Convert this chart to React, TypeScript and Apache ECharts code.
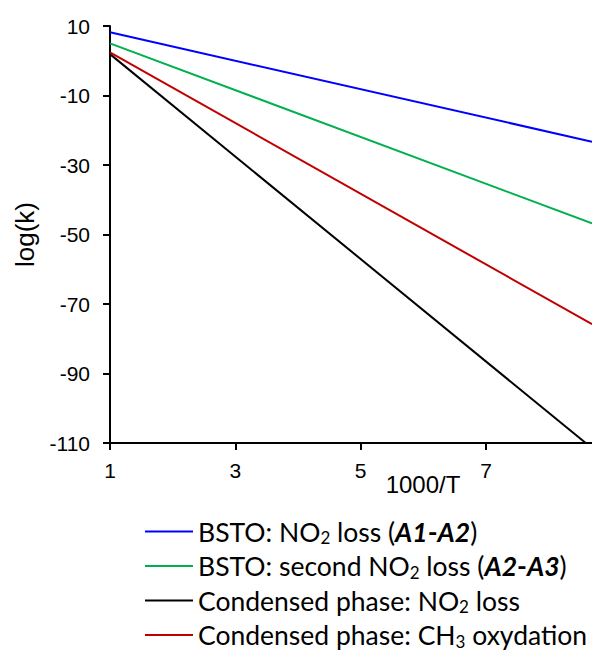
import React, { useEffect, useRef } from "react";
import * as echarts from "echarts";

// ---- data ----
const xTicks = [1, 3, 5, 7];
const yTicks = [-110, -90, -70, -50, -30, -10, 10];
const seriesNames = [
  "BSTO: NO2 loss (A1-A2)",
  "BSTO: second NO2 loss (A2-A3)",
  "Condensed phase: NO2 loss",
  "Condensed phase: CH3 oxydation",
];
const legendRich = [
  "BSTO: NO{sub|2} loss ({bi|A1}{b|-}{bi|A2})",
  "BSTO: second NO{sub|2} loss ({bi|A2}{b|-}{bi|A3})",
  "Condensed phase: NO{sub|2} loss",
  "Condensed phase: CH{sub|3} oxydation",
];
const colors = ["#0000FF", "#00B050", "#000000", "#C00000"];
const blueX = [1, 8.69];
const blueY = [8.2, -23.3];
const greenX = [1, 8.69];
const greenY = [5.0, -46.8];
const blackX = [1, 8.59];
const blackY = [1.9, -110];
const redX = [1, 8.69];
const redY = [2.4, -75.8];

const pairs = (xs: number[], ys: number[]) => xs.map((x, i) => [x, ys[i]]);

export default function App() {
  const ref = useRef<HTMLDivElement>(null);
  useEffect(() => {
    document.body.style.margin = "0";
    const chart = echarts.init(ref.current!, undefined, { renderer: "svg" });
    const seriesData = [
      pairs(blueX, blueY),
      pairs(greenX, greenY),
      pairs(blackX, blackY),
      pairs(redX, redY),
    ];
    const fam = "Lato";
    const fs = 26.5;
    chart.setOption({
      animation: false,
      backgroundColor: "#ffffff",
      grid: { left: 110, right: 0, top: 26, bottom: 209, containLabel: false },
      xAxis: {
        type: "value",
        min: 1,
        max: 8.69,
        interval: 2,
        name: "1000/T",
        nameLocation: "middle",
        nameGap: 29,
        nameMoveOverlap: false,
        nameTextStyle: {
          fontFamily: "Liberation Sans",
          fontSize: 24,
          color: "#000",
          padding: [0, 0, 0, 144],
        },
        axisLine: { onZero: false, lineStyle: { color: "#000", width: 2 } },
        axisTick: { show: true, length: 7, inside: false, customValues: xTicks, lineStyle: { color: "#000", width: 2 } },
        axisLabel: {
          customValues: xTicks,
          margin: 17,
          fontFamily: "Liberation Sans",
          fontSize: 21,
          color: "#000",
        },
        splitLine: { show: false },
      },
      yAxis: {
        type: "value",
        min: -110,
        max: 10,
        interval: 20,
        name: "log(k)",
        nameLocation: "middle",
        nameGap: 72,
        nameMoveOverlap: false,
        nameTextStyle: { fontFamily: "Liberation Sans", fontSize: 26, color: "#000" },
        axisLine: { show: true, onZero: false, lineStyle: { color: "#000", width: 2 } },
        axisTick: { show: true, length: 7, lineStyle: { color: "#000", width: 2 } },
        axisLabel: {
          customValues: yTicks,
          margin: 20,
          fontFamily: "Liberation Sans",
          fontSize: 21,
          color: "#000",
        },
        splitLine: { show: false },
      },
      legend: {
        orient: "vertical",
        left: 145,
        top: 518,
        height: 200,
        padding: 0,
        icon: "rect",
        itemWidth: 48,
        itemHeight: 2,
        itemGap: 6.5,
        data: seriesNames,
        formatter: (name: string) => legendRich[seriesNames.indexOf(name)],
        textStyle: {
          fontFamily: fam,
          fontSize: fs,
          color: "#000",
          rich: {
            sub: { fontFamily: fam, fontSize: 17, color: "#000", padding: [12, 0, 0, 0] },
            bi: { fontFamily: fam, fontSize: fs, fontWeight: "bold", fontStyle: "italic", color: "#000" },
            b: { fontFamily: fam, fontSize: fs, fontWeight: "bold", color: "#000" },
          },
        },
      },
      series: seriesNames.map((n, i) => ({
        name: n,
        type: "line",
        data: seriesData[i],
        showSymbol: false,
        symbol: "none",
        lineStyle: { color: colors[i], width: 2 },
        itemStyle: { color: colors[i] },
        clip: true,
      })),
    });
    return () => chart.dispose();
  }, []);
  return <div ref={ref} style={{ width: 592, height: 652 }} />;
}
